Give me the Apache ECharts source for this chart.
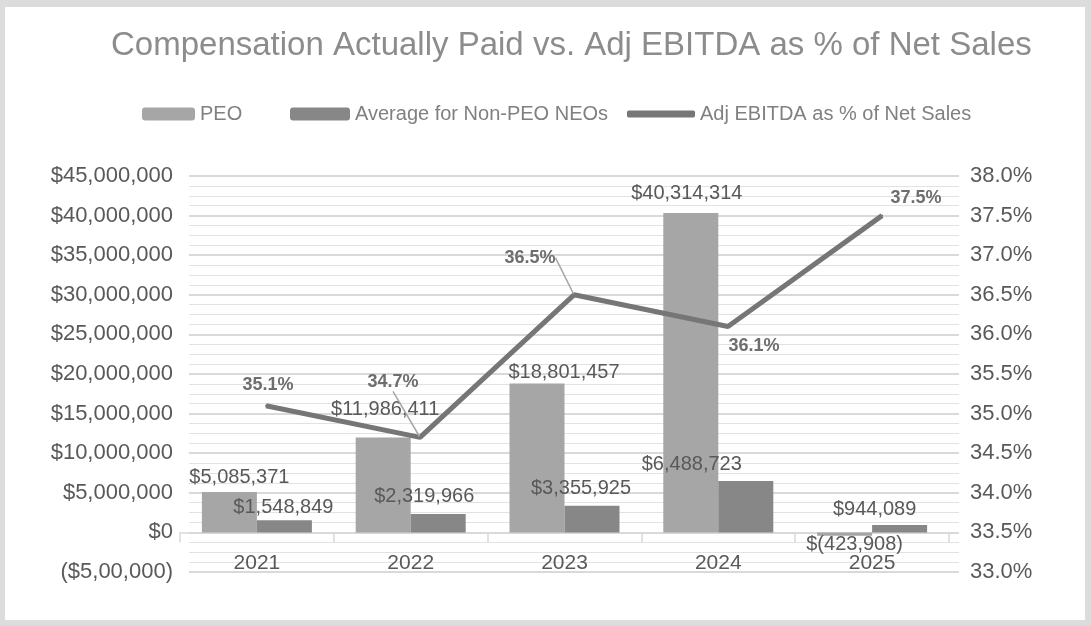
<!DOCTYPE html>
<html>
<head>
<meta charset="utf-8">
<script src="https://cdn.jsdelivr.net/npm/echarts@6/dist/echarts.min.js"></script>
<style>
  html, body { margin: 0; padding: 0; background: #ffffff; }
  #chart { width: 1091px; height: 626px; }
</style>
</head>
<body>
<div id="chart"></div>
<script>
// ---- data ----
const categories = ['2021', '2022', '2023', '2024', '2025'];
const peo = [5085371, 11986411, 18801457, 40314314, -423908];
const nonPeo = [1548849, 2319966, 3355925, 6488723, 944089];
const ebitdaPct = [35.1, 34.7, 36.5, 36.1, 37.5];
const leftTickLabels = ['($5,00,000)', '$0', '$5,000,000', '$10,000,000', '$15,000,000', '$20,000,000',
  '$25,000,000', '$30,000,000', '$35,000,000', '$40,000,000', '$45,000,000'];
const rightTickLabels = ['33.0%', '33.5%', '34.0%', '34.5%', '35.0%', '35.5%', '36.0%', '36.5%',
  '37.0%', '37.5%', '38.0%'];
const seriesNames = ['PEO', 'Average for Non-PEO NEOs', 'Adj EBITDA as % of Net Sales'];

// ---- layout (label nudges, pixels) ----
const peoLabelOffset = [[10, 0], [2, -13], [27, 4], [-4, -5], [10, -6]];
const nonPeoLabelOffset = [[-1, 2], [-14, -3], [-11, -2], [-54, -2], [-25, 0]];
const lineLabelShift = [[2, -6], [-27, -40], [-44, -22], [26, 35], [34, -3]];
const lineLeader = [false, true, true, false, false];

function money(v) {
  const s = Math.abs(v).toLocaleString('en-US');
  return v < 0 ? '$(' + s + ')' : '$' + s;
}

const chart = echarts.init(document.getElementById('chart'), null, { renderer: 'canvas' });
const FONT = 'Liberation Sans, Arial, sans-serif';
const yMin = -5000000, yMax = 45000000, yInt = 5000000;
const gridTop = 176, gridBottom = 54, plotH = 626 - gridTop - gridBottom;
const zeroShift = plotH * (0 - yMin) / (yMax - yMin); // distance from plot bottom to the $0 line

const barLabelBase = { show: true, fontFamily: FONT, fontSize: 20, color: '#595959', formatter: p => money(p.value) };

const option = {
  animation: false,
  backgroundColor: '#ffffff',
  textStyle: { fontFamily: FONT },
  title: {
    text: 'Compensation Actually Paid vs. Adj EBITDA as % of Net Sales',
    left: 106, top: 24,
    textStyle: { fontFamily: FONT, fontSize: 33, fontWeight: 'normal', color: '#8c8c8c' }
  },
  legend: [
    { data: [seriesNames[0]], left: 137, top: 99, itemWidth: 53, itemHeight: 13, itemGap: 0,
      textStyle: { fontFamily: FONT, fontSize: 20, color: '#808080' } },
    { data: [seriesNames[1]], left: 285, top: 99, itemWidth: 60, itemHeight: 13, itemGap: 0,
      textStyle: { fontFamily: FONT, fontSize: 20, color: '#808080' } },
    { data: [{ name: seriesNames[2], icon: 'roundRect' }], left: 622, top: 99, itemWidth: 68, itemHeight: 7, itemGap: 0,
      textStyle: { fontFamily: FONT, fontSize: 20, color: '#808080' } }
  ],
  graphic: [
    { type: 'rect', shape: { x: 0, y: 0, width: 1091, height: 7 }, style: { fill: '#dcdcdc' }, z: 100 },
    { type: 'rect', shape: { x: 0, y: 0, width: 5, height: 626 }, style: { fill: '#dcdcdc' }, z: 100 },
    { type: 'rect', shape: { x: 1085, y: 0, width: 6, height: 626 }, style: { fill: '#dcdcdc' }, z: 100 },
    { type: 'rect', shape: { x: 0, y: 620, width: 1091, height: 6 }, style: { fill: '#dcdcdc' }, z: 100 }
  ],
  grid: [
    { left: 189, right: 132, top: gridTop, bottom: gridBottom },
    { left: 180, right: 142, top: gridTop, bottom: gridBottom }
  ],
  xAxis: [
    { type: 'category', gridIndex: 0, data: categories, show: false },
    { type: 'category', gridIndex: 1, data: categories, position: 'bottom', offset: -zeroShift,
      axisLine: { onZero: false, lineStyle: { color: '#d9d9d9', width: 1.5 } },
      axisTick: { show: true, length: 10, lineStyle: { color: '#d9d9d9', width: 1.5 } },
      axisLabel: { fontFamily: FONT, fontSize: 21, color: '#595959', margin: 20 },
      splitLine: { show: false } }
  ],
  yAxis: [
    { type: 'value', gridIndex: 0, position: 'left', min: yMin, max: yMax, interval: yInt,
      axisLine: { show: false }, axisTick: { show: false },
      axisLabel: { fontFamily: FONT, fontSize: 22, color: '#595959', margin: 16,
        formatter: (v, i) => leftTickLabels[i] },
      splitLine: { show: true, lineStyle: { color: '#d9d9d9', width: 2 } },
      minorTick: { show: false, splitNumber: 4 },
      minorSplitLine: { show: true, lineStyle: { color: '#e2e2e2', width: 1 } } },
    { type: 'value', gridIndex: 0, position: 'right', min: 33, max: 38, interval: 0.5,
      axisLine: { show: false }, axisTick: { show: false },
      axisLabel: { fontFamily: FONT, fontSize: 22, color: '#595959', margin: 11,
        formatter: (v, i) => rightTickLabels[i] },
      splitLine: { show: false } },
    { type: 'value', gridIndex: 1, min: yMin, max: yMax, interval: yInt, show: false,
      splitLine: { show: false } }
  ],
  series: [
    { name: seriesNames[0], type: 'bar', xAxisIndex: 1, yAxisIndex: 2,
      barWidth: 55, barGap: '0%', itemStyle: { color: '#a6a6a6' }, z: 2,
      data: peo.map((v, i) => ({
        value: v,
        label: Object.assign({}, barLabelBase, { position: v < 0 ? 'bottom' : 'top', offset: peoLabelOffset[i] })
      })) },
    { name: seriesNames[1], type: 'bar', xAxisIndex: 1, yAxisIndex: 2,
      barWidth: 55, barGap: '0%', itemStyle: { color: '#878787' }, z: 2,
      data: nonPeo.map((v, i) => ({
        value: v,
        label: Object.assign({}, barLabelBase, { position: 'top', offset: nonPeoLabelOffset[i] })
      })) },
    { name: seriesNames[2], type: 'line', xAxisIndex: 0, yAxisIndex: 1, z: 5,
      symbol: 'circle', symbolSize: 2, showSymbol: true,
      lineStyle: { color: '#767676', width: 5 }, itemStyle: { color: '#767676' },
      label: { show: true, position: 'top', fontFamily: FONT, fontSize: 18, fontWeight: 'bold', color: '#6e6e6e',
        formatter: p => p.value.toFixed(1) + '%' },
      labelLine: { show: false, lineStyle: { color: '#a6a6a6', width: 1.5 } },
      labelLayout: p => ({ dx: lineLabelShift[p.dataIndex][0], dy: lineLabelShift[p.dataIndex][1] }),
      data: ebitdaPct.map((v, i) => ({
        value: v,
        labelLine: { show: lineLeader[i], lineStyle: { color: '#a6a6a6', width: 1.5 } }
      })) }
  ]
};
chart.setOption(option);
</script>
</body>
</html>
